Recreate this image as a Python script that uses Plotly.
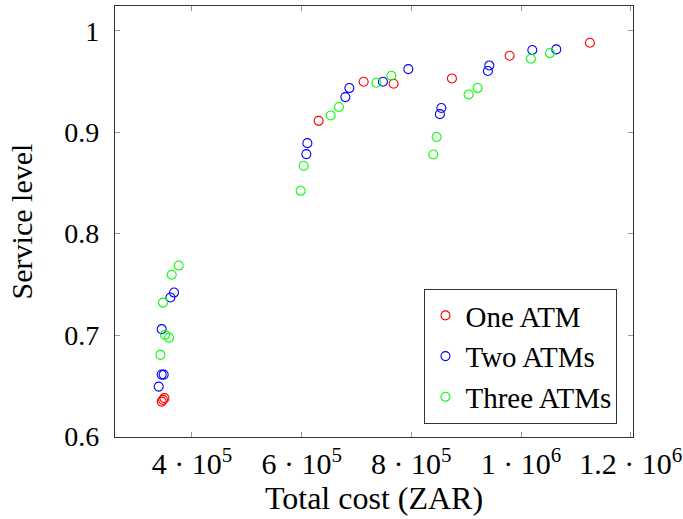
import plotly.graph_objects as go

# One ATM
one_cost = [344760, 347130, 349680, 630990, 713000, 767700, 874000, 979200, 1125600]
one_sl = [0.6344, 0.6361, 0.6378, 0.9112, 0.9497, 0.9477, 0.9530, 0.9753, 0.9882]

# Two ATMs
two_cost = [367200, 360620, 344760, 344760, 348410, 339290, 610400, 608560, 679660,
            686950, 748200, 794500, 854700, 852100, 942200, 939600, 1020600, 1064300]
two_sl = [0.7419, 0.7370, 0.7058, 0.6610, 0.6610, 0.6492, 0.8892, 0.8784, 0.9346,
          0.9435, 0.9497, 0.9622, 0.9238, 0.9178, 0.9658, 0.9603, 0.9810, 0.9816]

# Three ATMs
three_cost = [375750, 362990, 347130, 350780, 358070, 342390, 598200, 603640, 652860,
              667980, 736170, 763500, 840100, 846100, 904400, 920800, 1018000, 1052700]
three_sl = [0.7685, 0.7594, 0.7320, 0.7002, 0.6975, 0.6805, 0.8422, 0.8669, 0.9165,
            0.9248, 0.9487, 0.9556, 0.8780, 0.8952, 0.9372, 0.9435, 0.9724, 0.9780]

x_tickvals = [400000, 600000, 800000, 1000000, 1200000]
x_ticktext = ["4 · 10<sup>5</sup>", "6 · 10<sup>5</sup>", "8 · 10<sup>5</sup>",
              "1 · 10<sup>6</sup>", "1.2 · 10<sup>6</sup>"]
y_tickvals = [0.6, 0.7, 0.8, 0.9, 1.0]
y_ticktext = ["0.6", "0.7", "0.8", "0.9", "1"]

FONT = "Liberation Serif"

fig = go.Figure()
series = [
    ("One ATM", one_cost, one_sl, "#ff0000"),
    ("Two ATMs", two_cost, two_sl, "#0000ff"),
    ("Three ATMs", three_cost, three_sl, "#00ff00"),
]
for name, xs, ys, col in series:
    fig.add_trace(go.Scatter(
        x=xs, y=ys, mode="markers", name=name,
        marker=dict(symbol="circle-open", size=9, color=col, line=dict(width=1.1, color=col)),
    ))

axis_common = dict(
    showline=True, linecolor="#333", linewidth=1.2, mirror="ticks",
    ticks="inside", ticklen=5, tickcolor="#999", tickwidth=1,
    showgrid=False, zeroline=False, automargin=False,
)

fig.update_layout(
    width=683, height=519,
    margin=dict(l=115, r=50, t=6, b=82),
    paper_bgcolor="white", plot_bgcolor="white",
    font=dict(family=FONT, size=28, color="black"),
    xaxis=dict(range=[259600, 1204200], tickvals=x_tickvals, ticktext=x_ticktext,
               tickfont=dict(family=FONT, size=30, color="black"),
               title=dict(text="Total cost (ZAR)", font=dict(family=FONT, size=32), standoff=4),
               **axis_common),
    yaxis=dict(range=[0.5995, 1.0244], tickvals=y_tickvals, ticktext=y_ticktext,
               tickfont=dict(family=FONT, size=28, color="black"),
               title=dict(text="Service level", font=dict(family=FONT, size=30), standoff=22),
               ticklabelstandoff=9,
               **axis_common),
    legend=dict(x=0.970, y=0.030, xanchor="right", yanchor="bottom",
                bordercolor="#333", borderwidth=1, bgcolor="white",
                font=dict(family=FONT, size=29), tracegroupgap=0,
                itemwidth=30),
    showlegend=True,
)

fig.write_html("out.html", config={"displayModeBar": False},
               post_script="document.body.style.margin='0';")
